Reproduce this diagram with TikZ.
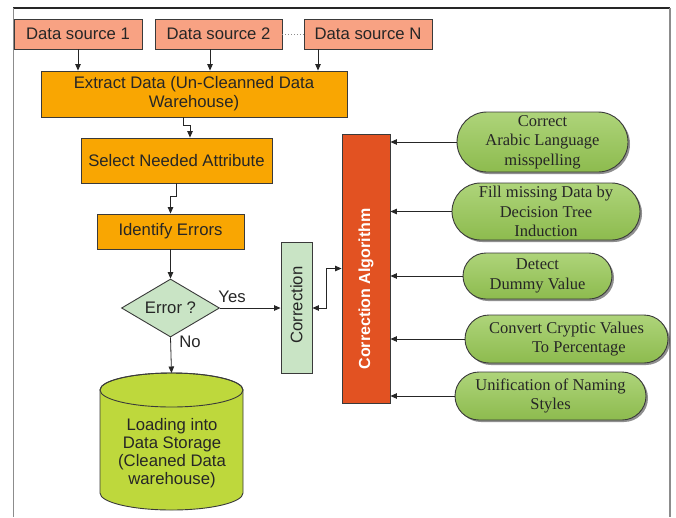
\documentclass[tikz,border=0pt]{standalone}
\usepackage{fontspec}
\setmainfont{Liberation Serif}
\newfontfamily\sansf{Liberation Sans}
\usetikzlibrary{arrows.meta,shapes.geometric,shapes.misc,shadows,calc}
\definecolor{dsfill}{HTML}{F8A283}
\definecolor{orfill}{HTML}{F9A602}
\definecolor{lgfill}{HTML}{C9E4C5}
\definecolor{calgfill}{HTML}{E25222}
\definecolor{cylfill}{HTML}{BED83C}
\definecolor{elltop}{HTML}{AED47A}
\definecolor{ellbot}{HTML}{8DBB4E}
\definecolor{bord}{HTML}{3A3A3A}
\begin{document}
\begin{tikzpicture}[x=1pt,y=1pt,
  sbox/.style={draw=bord,line width=0.9pt,rectangle,inner sep=0pt,align=center,
    font=\sansf\fontsize{16.7}{19}\selectfont,text=black!85},
  dsbox/.style={sbox,fill=dsfill,minimum height=30pt},
  orbox/.style={sbox,fill=orfill},
  gbox/.style={sbox,fill=lgfill},
  ell/.style={draw=bord,line width=0.9pt,rounded rectangle,inner sep=0pt,align=center,
    top color=elltop,bottom color=ellbot,
    font=\fontsize{16.5}{19.5}\selectfont,text=black!85,
    drop shadow={shadow xshift=2pt,shadow yshift=-2pt,opacity=0.55,fill=black!80}},
  arr/.style={draw=black!85,line width=0.8pt,-{Triangle[length=6.5pt,width=5.5pt]}},
  darr/.style={draw=black!85,line width=0.8pt,{Triangle[length=6.5pt,width=5.5pt]}-{Triangle[length=6.5pt,width=5.5pt]}},
  lbl/.style={font=\sansf\fontsize{16.7}{19}\selectfont,text=black!85,inner sep=0pt}
]
\useasboundingbox (0,0) rectangle (676,-517);
\fill[white] (0,0) rectangle (676,-517);
% frame
\draw[black!85,line width=1.6pt] (13,-8) -- (670,-8);
\draw[black!45,line width=1pt] (13,-8) -- (13,-517);
\draw[black!45,line width=1.5pt] (670,-8) -- (670,-517);

% data sources
\node[dsbox,minimum width=128pt] (ds1) at (78,-34) {Data source 1};
\node[dsbox,minimum width=127pt] (ds2) at (218.5,-34) {Data source 2};
\node[dsbox,minimum width=128pt] (dsN) at (368,-34) {Data source N};
\draw[black!45,line width=0.9pt,dotted] (ds2.east) -- (dsN.west);

% main flow
\node[orbox,minimum width=306pt,minimum height=46pt] (extract) at (194,-94)
  {Extract Data (Un-Cleanned Data\\Warehouse)};
\node[orbox,minimum width=191pt,minimum height=45pt] (select) at (176.5,-160.5)
  {Select Needed Attribute};
\node[orbox,minimum width=147pt,minimum height=35pt] (identify) at (170.5,-231.5)
  {Identify Errors};
\node[gbox,diamond,shape aspect=1.69,minimum width=98pt,minimum height=58pt] (err)
  at (170.5,-308) {Error ?};
\node[gbox,minimum width=31pt,minimum height=131pt] (corr) at (296.5,-307.5) {};
\node[lbl,rotate=90] (corrtxt) at (296.5,-305) {Correction};
\node[draw=bord,line width=0.9pt,fill=calgfill,minimum width=48pt,minimum height=269pt,inner sep=0pt]
  (calg) at (366,-268.5) {};
\node[lbl,rotate=90,text=white,font=\sansf\bfseries\fontsize{16}{19}\selectfont]
  (calgtxt) at (366,-289) {Correction Algorithm};

% cylinder
\fill[cylfill,draw=bord,line width=0.9pt]
  (100,-390) -- (100,-493) arc[start angle=180,end angle=360,x radius=71.5,y radius=17]
  -- (243,-390) arc[start angle=0,end angle=180,x radius=71.5,y radius=17];
\draw[bord,line width=0.9pt] (171.5,-390) ellipse[x radius=71.5,y radius=17];
\coordinate (cyltop) at (171.5,-373);
\node[lbl,align=center,font=\sansf\fontsize{16.7}{18}\selectfont] (store) at (172,-453)
  {Loading into\\Data Storage\\(Cleaned Data\\warehouse)};

% right side techniques
\node[ell,minimum width=171pt,minimum height=60pt] (e1) at (542.5,-142)
  {Correct\\Arabic Language\\misspelling};
\node[ell,minimum width=188pt,minimum height=57pt] (e2) at (546,-211.5)
  {Fill missing Data by\\Decision Tree\\Induction};
\node[ell,minimum width=149pt,minimum height=46pt] (e3) at (537.5,-276)
  {Detect\\Dummy Value};
\node[ell,minimum width=203pt,minimum height=48pt] (e4) at (566.5,-339)
  {Convert Cryptic Values\\\hspace*{1.5em}To Percentage};
\node[ell,minimum width=191pt,minimum height=48pt] (e5) at (550.5,-396)
  {Unification of Naming\\Styles};

% connectors
\draw[arr] (ds1.south) -- (ds1.south |- extract.north);
\draw[arr] ([xshift=-8.5pt]ds2.south) -- ([xshift=-8.5pt]ds2.south |- extract.north);
\draw[arr] ([xshift=-50pt]dsN.south) -- ([xshift=-50pt]dsN.south |- extract.north);
\draw[arr] ([xshift=-11pt]extract.south) -- ++(0,-8) -| ([xshift=13.5pt]select.north);
\draw[arr] (select.south) -- ++(0,-13) -| (identify.north);
\draw[arr] (identify.south) -- (err.north);
\draw[arr] (err.east) -- (err.east -| corr.west);
\draw[darr] ([yshift=-0.5pt]corr.east) -- ++(14,0) |- (calg.west);
\draw[arr] (err.south) -- (cyltop);
\foreach \e in {e1,e2,e3,e4,e5}{
  \draw[arr] (\e.west) -- (\e.west -| calg.east);
}
\node[lbl] (yes) at (232,-297) {Yes};
\node[lbl] (no) at (190,-342) {No};
\end{tikzpicture}
\end{document}
